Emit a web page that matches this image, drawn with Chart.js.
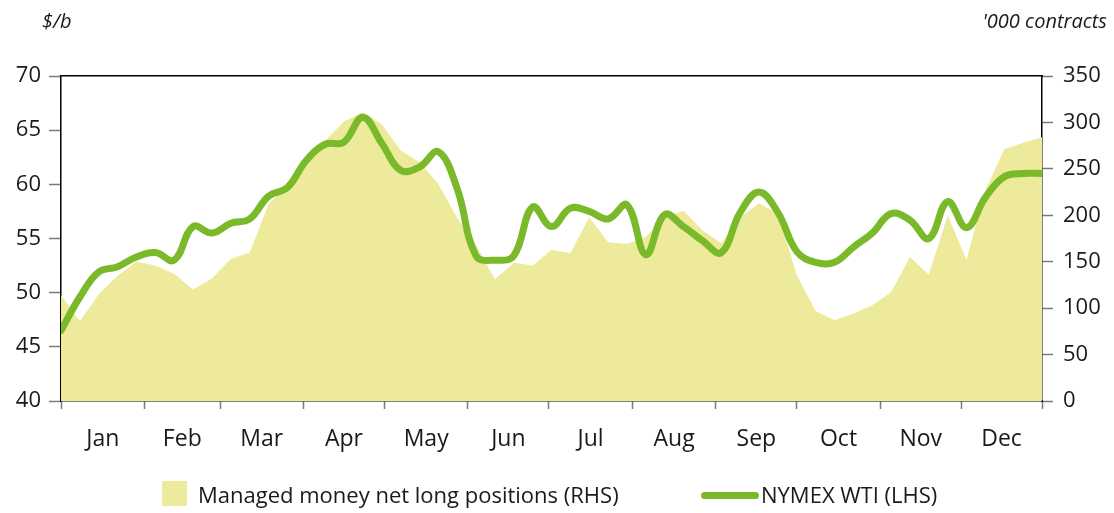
<!DOCTYPE html>
<html>
<head>
<meta charset="utf-8">
<script src="https://cdn.jsdelivr.net/npm/chart.js@4.4.1/dist/chart.umd.min.js"></script>
<style>
    html, body { margin: 0; padding: 0; background: #fff; }
    #wrap { position: relative; width: 1114px; height: 513px; font-family: "Open Sans", sans-serif; color: #1a1a1a; }
    .unit { position: absolute; top: 7px; font-size: 20px; font-style: italic; }
    .unit.left { left: 42px; }
    .unit.right { right: 7px; }
    #legend { position: absolute; top: 479px; left: 0; width: 1114px; height: 32px; font-size: 22px; }
    .item { position: absolute; top: 0; white-space: nowrap; }
    .swatch { position: absolute; top: 2px; width: 25px; height: 25px; background: #eeea9b; }
    .stroke { position: absolute; top: 13px; width: 58px; height: 7px; border-radius: 4px; background: #7aba2a; }
</style>
</head>
<body>
<div id="wrap">
    <canvas id="chart" width="1114" height="513"></canvas>
    <div class="unit left">$/b</div>
    <div class="unit right">'000 contracts</div>
    <div id="legend">
        <div class="item" style="left:162px"><span class="swatch"></span><span style="position:absolute;left:36px;top:0">Managed money net long positions (RHS)</span></div>
        <div class="item" style="left:701px"><span class="stroke"></span><span style="position:absolute;left:60px;top:0">NYMEX WTI (LHS)</span></div>
    </div>
</div>
<script>
// weekly observations, day of year
const weekDays = [0, 7, 14, 21, 28, 35, 42, 49, 56, 63, 70, 77, 84, 91, 98, 105, 112, 119, 126, 133,
    140, 147, 154, 161, 168, 175, 182, 189, 196, 203, 210, 217, 224, 231, 238, 245, 252, 259, 266, 273,
    280, 287, 294, 301, 308, 315, 322, 329, 336, 343, 350, 357, 364];

// managed money net long positions, '000 contracts (RHS)
const netLong = [114, 86, 115, 135, 150, 146, 137, 120, 132, 153, 160, 212, 233, 257, 280, 301, 311, 298, 270, 257,
    234, 197, 168, 131, 149, 146, 163, 159, 198, 171, 169, 177, 198, 205, 184, 170, 198, 213, 202, 136,
    97, 87, 94, 103, 117, 155, 136, 200, 152, 227, 271, 278, 284];

// NYMEX WTI, $/b (LHS)
const wti = [46.5, 49.6, 51.9, 52.4, 53.3, 53.7, 53.0, 56.1, 55.5, 56.4, 56.8, 58.9, 59.7, 62.2, 63.7, 63.9, 66.2, 63.8, 61.3, 61.6,
    63.0, 59.6, 53.4, 53.0, 53.4, 57.9, 56.1, 57.8, 57.5, 56.8, 58.1, 53.5, 57.2, 56.1, 54.8, 53.7, 57.4, 59.3, 57.4, 53.8,
    52.8, 52.8, 54.2, 55.5, 57.3, 56.7, 55.0, 58.4, 56.0, 58.8, 60.7, 61.0, 61.0];

const monthLabels = ['Jan', 'Feb', 'Mar', 'Apr', 'May', 'Jun', 'Jul', 'Aug', 'Sep', 'Oct', 'Nov', 'Dec'];
const monthStarts = [0, 31, 59, 90, 120, 151, 181, 212, 243, 273, 304, 334, 364];

const leftTicks = [40, 45, 50, 55, 60, 65, 70];
const rightTicks = [0, 50, 100, 150, 200, 250, 300, 350];

const fontFamily = '"Open Sans", sans-serif';
const tickGrey = '#7a7a7a';

const monthMids = monthLabels.map((m, i) => (monthStarts[i] + monthStarts[i + 1]) / 2);

function xy(values) {
    return values.map((v, i) => ({ x: weekDays[i], y: v }));
}

const chart = new Chart(document.getElementById('chart'), {
    type: 'line',
    data: {
        datasets: [
            {
                label: 'NYMEX WTI (LHS)',
                data: xy(wti),
                yAxisID: 'yL',
                borderColor: '#7aba2a',
                borderWidth: 7,
                borderCapStyle: 'round',
                borderJoinStyle: 'round',
                pointRadius: 0,
                tension: 0.4,
                fill: false,
                order: 0
            },
            {
                label: 'Managed money net long positions (RHS)',
                data: xy(netLong),
                yAxisID: 'yR',
                backgroundColor: '#eeea9b',
                borderWidth: 0,
                pointRadius: 0,
                tension: 0,
                fill: 'start',
                order: 1
            }
        ]
    },
    options: {
        responsive: false,
        devicePixelRatio: 1,
        animation: false,
        layout: { padding: { top: 76, right: 0, bottom: 52, left: 0 } },
        plugins: { legend: { display: false }, tooltip: { enabled: false } },
        scales: {
            x: {
                type: 'linear',
                position: 'bottom',
                min: 0,
                max: 364,
                afterBuildTicks: (scale) => {
                    const vals = monthStarts.concat(monthMids).sort((a, b) => a - b);
                    scale.ticks = vals.map(v => ({ value: v }));
                },
                afterFit: (scale) => { scale.height = 60; },
                border: { display: true, color: '#000', width: 1.5 },
                grid: {
                    drawOnChartArea: false,
                    tickLength: 8,
                    tickWidth: 1.5,
                    tickColor: (ctx) => (ctx.tick && monthStarts.includes(ctx.tick.value)) ? tickGrey : 'rgba(0,0,0,0)'
                },
                ticks: {
                    autoSkip: false,
                    maxRotation: 0,
                    padding: 17,
                    color: '#1a1a1a',
                    font: { family: fontFamily, size: 23 },
                    callback: (v) => {
                        const i = monthMids.indexOf(v);
                        return i >= 0 ? monthLabels[i] : '';
                    }
                }
            },
            xTop: {
                type: 'linear',
                position: 'top',
                min: 0,
                max: 364,
                afterFit: (scale) => { scale.height = 0; },
                border: { display: true, color: '#000', width: 1.5 },
                grid: { display: false, drawTicks: false },
                ticks: { display: false }
            },
            yL: {
                position: 'left',
                min: 40,
                max: 70,
                afterBuildTicks: (scale) => { scale.ticks = leftTicks.map(v => ({ value: v })); },
                afterFit: (scale) => { scale.width = 61; },
                border: { display: true, color: '#000', width: 1.5 },
                grid: { drawOnChartArea: false, tickLength: 12, tickWidth: 1.5, tickColor: tickGrey },
                ticks: { padding: 8, color: '#1a1a1a', font: { family: fontFamily, size: 22 } }
            },
            yR: {
                position: 'right',
                min: 0,
                max: 350,
                afterBuildTicks: (scale) => { scale.ticks = rightTicks.map(v => ({ value: v })); },
                afterFit: (scale) => { scale.width = 72; },
                border: { display: true, color: '#000', width: 1.5 },
                grid: { drawOnChartArea: false, tickLength: 11, tickWidth: 1.5, tickColor: tickGrey },
                ticks: { padding: 10, color: '#1a1a1a', font: { family: fontFamily, size: 22 } }
            }
        }
    }
});
</script>
</body>
</html>
